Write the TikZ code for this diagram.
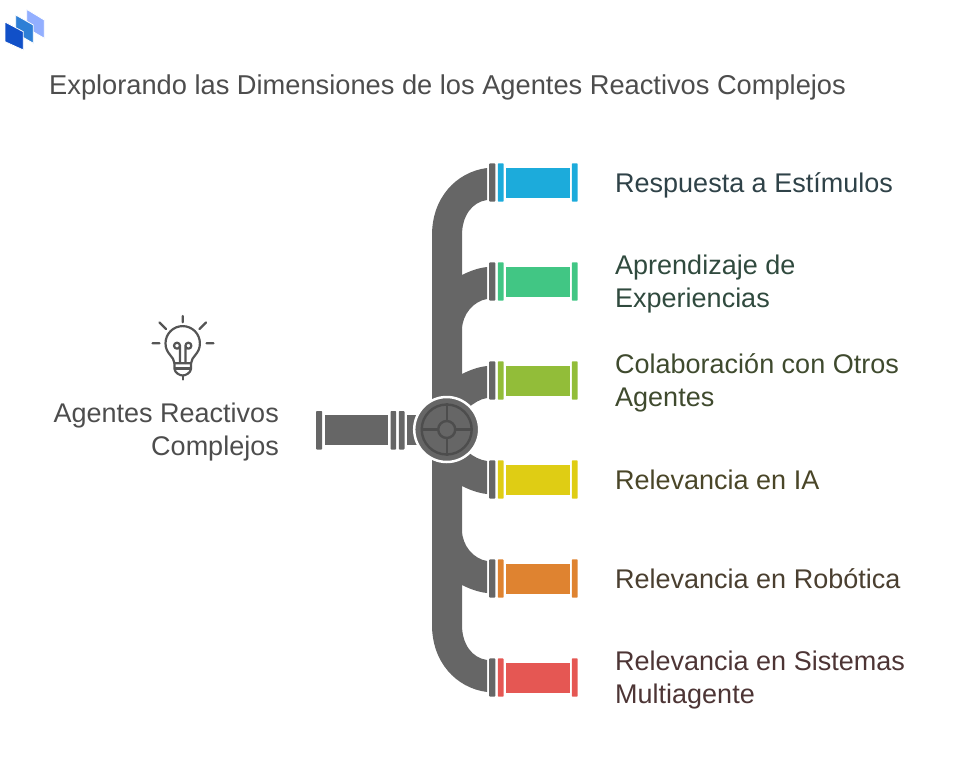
\documentclass[tikz,border=0pt]{standalone}
\usepackage{fontspec}
\setmainfont{Liberation Sans}
\usepackage{tikz}
\usetikzlibrary{calc}
\definecolor{pipegray}{HTML}{666666}
\definecolor{ringgray}{HTML}{4D4D4D}
\definecolor{bulbgray}{HTML}{555555}
\definecolor{logoa}{HTML}{1150C8}
\definecolor{logob}{HTML}{2E7FD6}
\definecolor{logoc}{HTML}{93AFFF}
\definecolor{c1}{HTML}{1CABDB}
\definecolor{c2}{HTML}{41C684}
\definecolor{c3}{HTML}{92BD39}
\definecolor{c4}{HTML}{DFCD14}
\definecolor{c5}{HTML}{DF8330}
\definecolor{c6}{HTML}{E55753}
\definecolor{t1}{HTML}{2F4248}
\definecolor{t2}{HTML}{304A3E}
\definecolor{t3}{HTML}{3F4A2E}
\definecolor{t4}{HTML}{4A4628}
\definecolor{t5}{HTML}{4A3F30}
\definecolor{t6}{HTML}{4D3535}
\tikzset{
  label/.style={inner sep=0pt,font=\fontsize{27}{33}\selectfont},
  flange/.style={rounded corners=0.8pt},
  logopage/.style={draw=white,line width=0.8pt,line join=round},
  bulbline/.style={draw=bulbgray,line width=2.2pt,line cap=round,line join=round}
}
\begin{document}
\begin{tikzpicture}[x=1pt,y=-1pt]
\useasboundingbox (0,0) rectangle (960,779);
% logo
\filldraw[logopage,fill=logoc] (26.7,9.3) -- (44.3,20) -- (44.3,38.3) -- (26.7,28) -- cycle;
\filldraw[logopage,fill=logob] (15.7,15) -- (33.3,25) -- (33.3,43.3) -- (15.7,33) -- cycle;
\filldraw[logopage,fill=logoa] (5,22) -- (23.3,31.7) -- (23.3,50) -- (5,41.7) -- cycle;
% title
\node[label,font=\fontsize{27.25}{33}\selectfont,anchor=base west,text=ringgray] (title) at (49,94) {Explorando las Dimensiones de los Agentes Reactivos Complejos};
% main pipe
\fill[pipegray] (432,235) .. controls (432,198) and (456,172) .. (487,168)
  -- (487,200) .. controls (472,202) and (462,216) .. (462,235)
  -- (462,275) .. controls (470,271) and (478,268) .. (487,267)
  -- (487,299) .. controls (474,301) and (462,314) .. (462,330)
  -- (462,374) .. controls (470,370) and (478,367) .. (487,366)
  -- (487,398) .. controls (480,399) and (474,403) .. (468,408)
  -- (468,452) .. controls (474,457) and (480,460) .. (487,461)
  -- (487,494) .. controls (478,493) and (470,490) .. (462,486)
  -- (462,530) .. controls (462,546) and (474,559) .. (487,561)
  -- (487,593) .. controls (478,592) and (470,589) .. (462,585)
  -- (462,625) .. controls (462,644) and (472,658) .. (487,660)
  -- (487,692) .. controls (456,688) and (432,662) .. (432,625) -- cycle;
% branches
\foreach \y/\col/\tcol/\name/\txt in {
  182.5/c1/t1/respuesta/{\strut Respuesta a Estímulos},
  281.5/c2/t2/aprendizaje/{\strut Aprendizaje de\\\strut Experiencias},
  380.5/c3/t3/colaboracion/{\strut Colaboración con Otros\\\strut Agentes},
  479.5/c4/t4/ia/{\strut Relevancia en IA},
  578.5/c5/t5/robotica/{\strut Relevancia en Robótica},
  677.5/c6/t6/sistemas/{\strut Relevancia en Sistemas\\\strut Multiagente}}{
  \fill[pipegray,flange] (489.2,\y-19.2) rectangle (495.3,\y+19.2);
  \fill[\col,flange] (497.8,\y-19.2) rectangle (503.6,\y+19.2);
  \fill[\col] (506,\y-15) rectangle (569.5,\y+15);
  \fill[\col,flange] (571.8,\y-19.2) rectangle (577.7,\y+19.2);
  \node[label,anchor=west,align=left,text=\tcol] (\name) at (615,\y+3) {\txt};
}
% inlet
\fill[pipegray,flange] (316,411) rectangle (322.2,449.5);
\fill[pipegray] (324.5,415) rectangle (388,445.3);
\fill[pipegray,flange] (390.5,411) rectangle (396.2,449.5);
\fill[pipegray,flange] (398.8,411) rectangle (404.5,449.5);
\fill[pipegray] (406.7,415) rectangle (420,445.3);
% valve
\node[circle,fill=pipegray,draw=white,line width=2.5pt,minimum size=65pt,inner sep=0pt] (valve) at (446.7,429.5) {};
\node[circle,draw=ringgray,line width=2.4pt,minimum size=50pt,inner sep=0pt] (ring) at (valve) {};
\node[circle,draw=ringgray,line width=2.4pt,minimum size=17pt,inner sep=0pt] (hub) at (valve) {};
\draw[ringgray,line width=2.4pt] (ring.north) -- (hub.north) (hub.south) -- (ring.south)
  (ring.west) -- (hub.west) (hub.east) -- (ring.east);
% bulb
\draw[bulbline] (182.7,316) -- (182.7,322.3) (152.5,343.3) -- (159.5,343.3) (206.5,343.3) -- (213.5,343.3)
  (159.5,322.5) -- (166,329) (206,322.5) -- (199.5,329);
\draw[bulbline] (174.5,363.3) .. controls (174,356) and (165.5,354) .. (165.5,343.3)
  arc[start angle=180,end angle=360,radius=17.2] .. controls (200,354) and (191.5,356) .. (191,363.3) -- cycle;
\draw[bulbline] (175,368.5) -- (190.5,368.5);
\draw[bulbline] (174.5,363.3) -- (174.5,369) .. controls (175,373) and (180,375.5) .. (182.7,375.5)
  .. controls (185.5,375.5) and (190.5,373) .. (191,369) -- (191,363.3);
\draw[bulbline] (182.7,375.5) -- (182.7,379.5);
\draw[bulbline] (180,363) -- (180,346) (185.4,363) -- (185.4,346)
  (177,345.7) circle[radius=3] (188.4,345.7) circle[radius=3];
\node[label,anchor=east,align=right,text=ringgray] (agentes) at (279,432.5) {\strut Agentes Reactivos\\\strut Complejos};
\end{tikzpicture}
\end{document}
